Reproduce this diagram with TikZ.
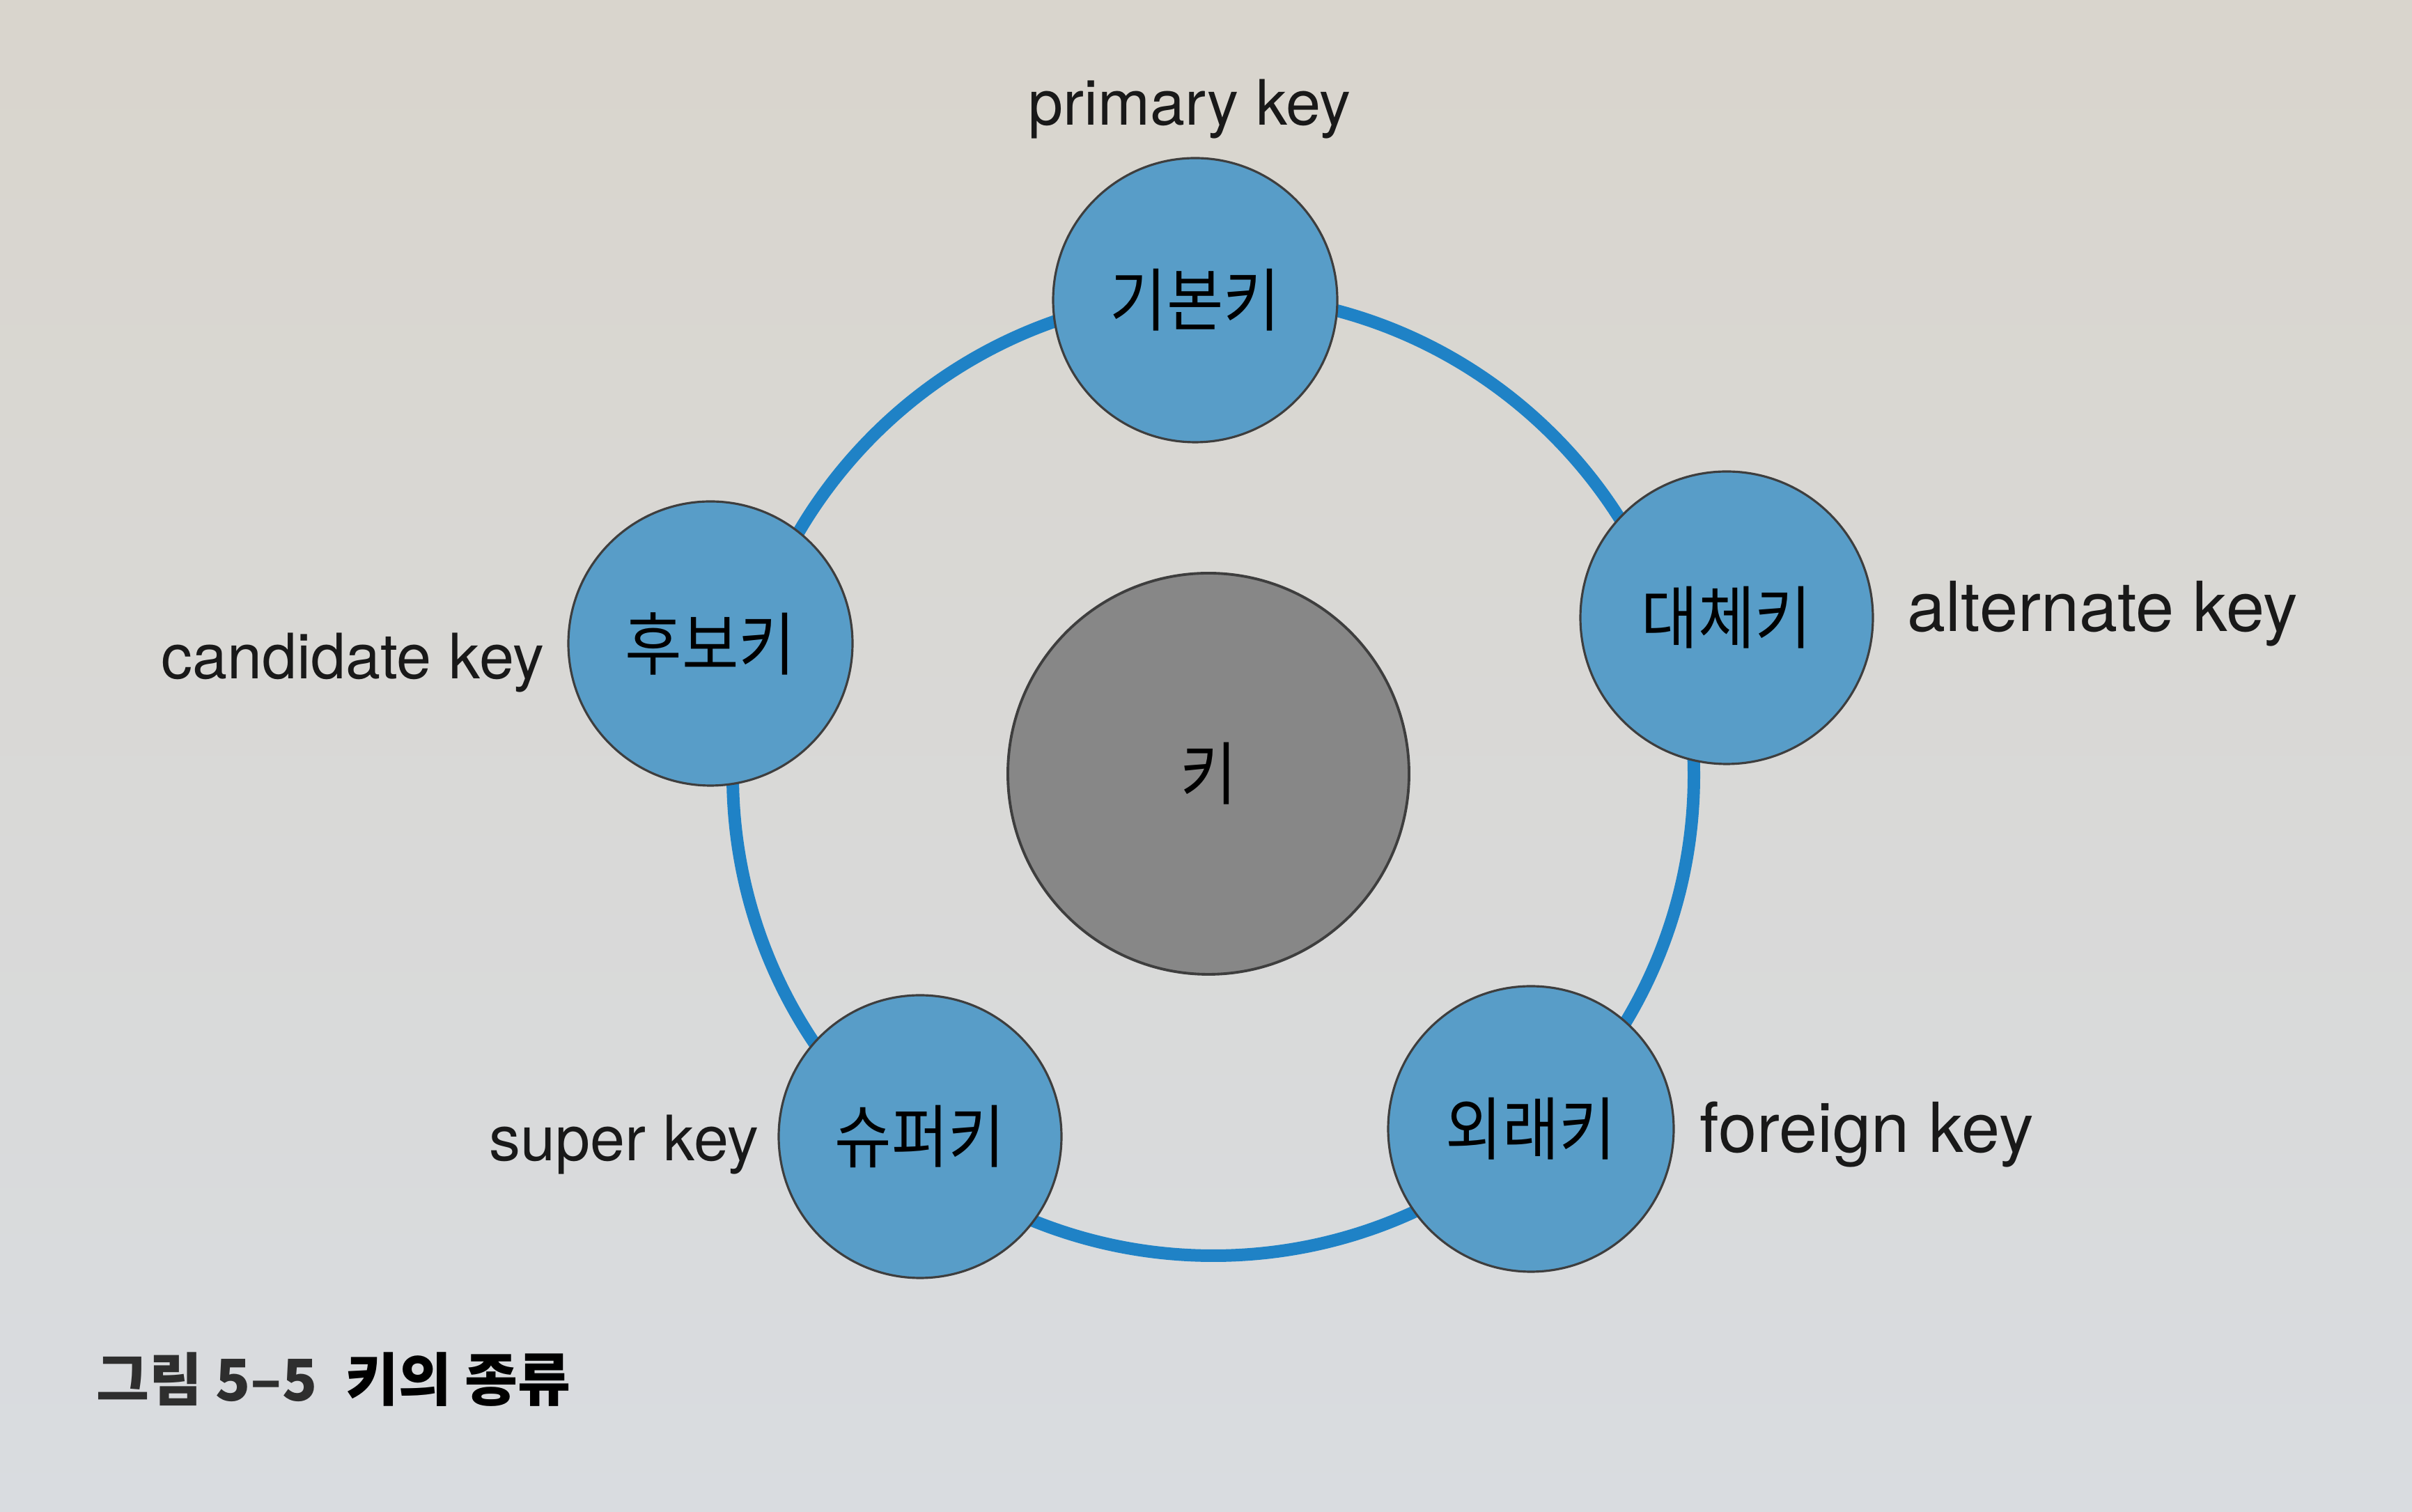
\documentclass[tikz,border=0pt]{standalone}
\usepackage{fontspec}
\setmainfont{TeX Gyre Heros}
\newfontfamily\krfont[FakeStretch=0.9]{Noto Sans CJK KR}
\newfontfamily\krcap{Noto Sans CJK KR}
\definecolor{paperTop}{HTML}{D9D5CD}
\definecolor{paperBot}{HTML}{D9DCE0}
\definecolor{keyBlue}{HTML}{589DC8}
\definecolor{ringBlue}{HTML}{1F82C6}
\definecolor{keyGray}{HTML}{878787}
\definecolor{edgeGray}{HTML}{3E3E3E}
\definecolor{capGray}{HTML}{2E2E2E}
\tikzset{
  keycircle/.style={circle, fill=keyBlue, draw=edgeGray, line width=0.9pt,
    minimum size=#1, inner sep=0pt,
    font=\krfont\fontsize{28}{32}\selectfont},
  corecircle/.style={circle, fill=keyGray, draw=edgeGray, line width=1.1pt,
    minimum size=5.76cm, inner sep=0pt,
    font=\krfont\fontsize{28}{32}\selectfont},
  ringline/.style={draw=ringBlue, line width=0.18cm},
  engtext/.style={font=\fontsize{25.6}{30}\selectfont, inner sep=0pt, text=black!90},
  engtextR/.style={font=\fontsize{28.2}{33}\selectfont, inner sep=0pt, text=black!90},
  captext/.style={font=\krcap\bfseries\fontsize{23.5}{28}\selectfont, inner sep=0pt}
}
\begin{document}
\begin{tikzpicture}
\shade[top color=paperTop, bottom color=paperBot] (0,0) rectangle (34.63,21.71);
\useasboundingbox (0,0) rectangle (34.63,21.71);

\coordinate (ringc) at (17.42,10.58);
\draw[ringline] (ringc) circle (6.90);

\node[corecircle] (core) at (17.35,10.60) {키};

\node[keycircle=4.08cm] (pk) at (17.16,17.40) {기본키};
\node[keycircle=4.20cm] (ak) at (24.79,12.84) {대체키};
\node[keycircle=4.10cm] (fk) at (21.98,5.50) {외래키};
\node[keycircle=4.06cm] (sk) at (13.21,5.39) {슈퍼키};
\node[keycircle=4.08cm] (ck) at (10.20,12.47) {후보키};

\node[engtext, anchor=base] (pkl) at (17.08,19.91) {primary key};
\node[engtextR, anchor=base west] (akl) at (27.38,12.64) {alternate key};
\node[engtext, anchor=base east] (ckl) at (7.82,11.96) {candidate key};
\node[engtext, anchor=base east] (skl) at (10.90,5.04) {super key};
\node[engtextR, anchor=base west] (fkl) at (24.40,5.16) {foreign key};

\node[captext, anchor=base west] (cap) at (1.38,1.59)
  {\textcolor{capGray}{그림 5–5}\hspace{0.5em}키의 종류};
\end{tikzpicture}
\end{document}
